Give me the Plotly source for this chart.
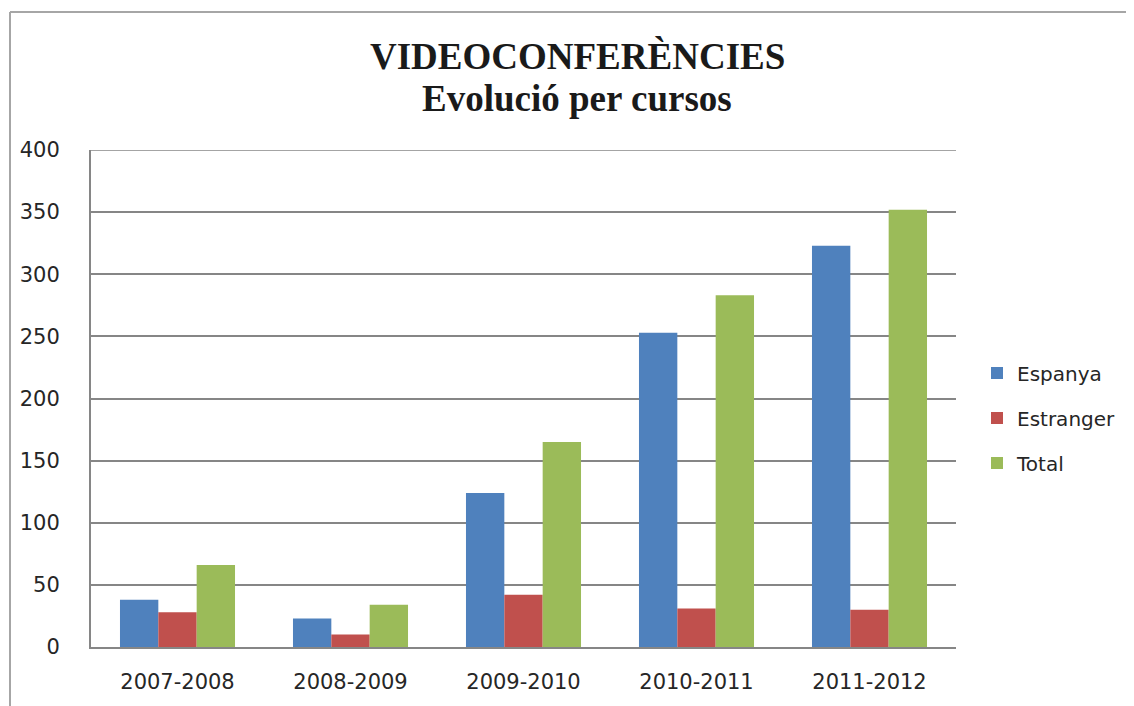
import plotly.graph_objects as go

categories = ["2007-2008", "2008-2009", "2009-2010", "2010-2011", "2011-2012"]
espanya = [38, 23, 124, 253, 323]
estranger = [28, 10, 42, 31, 30]
total = [66, 34, 165, 283, 352]
y_ticks = [0, 50, 100, 150, 200, 250, 300, 350, 400]

OFF = 8  # default page body margin
W, H = 1134 - OFF, 706 - OFF
# plot area in page pixels: x 91..956, y 150..647
L = 91 - OFF
T = 150 - OFF
R = W - (956 - OFF)
B = H - (647 - OFF)
pw, ph = W - L - R, H - T - B

def px(x):
    return (x - OFF - L) / pw

def py(y):
    return (H - B - (y - OFF)) / ph

fig = go.Figure()
series = [("Espanya", espanya, "#4F81BD"),
          ("Estranger", estranger, "#C0504D"),
          ("Total", total, "#9BBB59")]
for name, vals, col in series:
    fig.add_trace(go.Bar(x=categories, y=vals, name=name, marker_color=col,
                         marker_line_width=0, legendgroup=name))

fig.update_layout(
    width=W, height=H,
    margin=dict(l=L, r=R, t=T, b=B),
    paper_bgcolor="white", plot_bgcolor="white",
    barmode="group", bargap=0.335, bargroupgap=0,
    font=dict(family="DejaVu Sans", size=20, color="#262626"),
    showlegend=True,
    legend=dict(x=px(977), xanchor="left", y=py(418), yanchor="middle",
                font=dict(size=20), tracegroupgap=16, bgcolor="rgba(0,0,0,0)"),
    xaxis=dict(showline=True, linecolor="#868686", linewidth=2, showgrid=False,
               ticks="", ticklabelstandoff=15, tickfont=dict(size=21)),
    yaxis=dict(range=[0, 400], tickvals=y_ticks, showgrid=True, gridcolor="#868686",
               gridwidth=1.5, showline=True, linecolor="#868686", linewidth=2,
               zeroline=False, ticks="", ticklabelstandoff=25, tickfont=dict(size=21)),
    shapes=[
        dict(type="line", xref="paper", yref="y", x0=0, x1=1, y0=400, y1=400,
             line=dict(color="#868686", width=1.5)),
        dict(type="line", xref="paper", yref="paper", x0=px(10), x1=px(1140),
             y0=py(12), y1=py(12), line=dict(color="#A6A6A6", width=2)),
        dict(type="line", xref="paper", yref="paper", x0=px(10), x1=px(10),
             y0=py(12), y1=py(712), line=dict(color="#A6A6A6", width=2)),
    ],
    annotations=[
        dict(text="<b>VIDEOCONFERÈNCIES</b>", xref="paper", yref="paper",
             x=px(577), y=py(56), xanchor="center", yanchor="middle", showarrow=False,
             font=dict(family="Liberation Serif", size=37, color="#1a1a1a")),
        dict(text="<b>Evolució per cursos</b>", xref="paper", yref="paper",
             x=px(577), y=py(98), xanchor="center", yanchor="middle", showarrow=False,
             font=dict(family="Liberation Serif", size=37, color="#1a1a1a")),
    ],
)

fig.write_html("out.html")
